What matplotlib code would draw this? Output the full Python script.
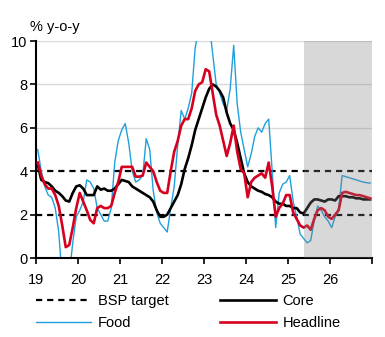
import numpy as np
import matplotlib.pyplot as plt

plt.rcParams['font.family'] = ['Liberation Sans', 'DejaVu Sans']

# monthly y-o-y inflation, Jan 2019 - Dec 2026 (forecast from May 2025)
headline = [
    4.4, 3.8, 3.4, 3.2, 3.2, 2.9, 2.4, 1.5, 0.5, 0.6, 1.4, 2.3,    # 2019
    3.0, 2.6, 2.2, 1.75, 1.6, 2.3, 2.4, 2.3, 2.3, 2.4, 3.0, 3.5,   # 2020
    4.2, 4.2, 4.2, 4.2, 3.75, 3.75, 3.8, 4.4, 4.2, 4.0, 3.5, 3.1,  # 2021
    3.0, 3.0, 4.0, 4.9, 5.4, 6.1, 6.4, 6.4, 6.9, 7.7, 8.0, 8.1,    # 2022
    8.7, 8.6, 7.6, 6.6, 6.1, 5.4, 4.7, 5.3, 6.1, 4.9, 4.1, 3.9,    # 2023
    2.8, 3.5, 3.7, 3.8, 3.9, 3.7, 4.4, 3.3, 1.9, 2.3, 2.5, 2.9,    # 2024
    2.9, 2.1, 1.8, 1.5, 1.4, 1.5, 1.3, 1.8, 2.2, 2.3, 2.2, 1.9,    # 2025
    1.8, 2.0, 2.2, 3.0, 3.05, 3.0, 2.95, 2.9, 2.9, 2.85, 2.8, 2.75,  # 2026
]
core = [
    4.3, 3.6, 3.5, 3.45, 3.3, 3.1, 3.0, 2.85, 2.65, 2.6, 3.0, 3.3,
    3.35, 3.2, 2.9, 2.9, 2.9, 3.3, 3.15, 3.2, 3.1, 3.1, 3.2, 3.4,
    3.6, 3.55, 3.5, 3.3, 3.2, 3.1, 3.0, 2.9, 2.8, 2.6, 2.2, 1.9,
    1.9, 2.0, 2.3, 2.6, 2.9, 3.4, 4.1, 4.6, 5.2, 5.9, 6.4, 6.9,
    7.4, 7.8, 8.0, 7.9, 7.7, 7.4, 6.7, 6.2, 5.9, 5.3, 4.6, 3.9,
    3.5, 3.3, 3.2, 3.1, 3.05, 2.95, 2.9, 2.8, 2.6, 2.5, 2.5, 2.4,
    2.4, 2.3, 2.3, 2.1, 2.05, 2.3, 2.55, 2.7, 2.7, 2.65, 2.6, 2.7,
    2.7, 2.65, 2.85, 2.85, 2.85, 2.8, 2.8, 2.75, 2.75, 2.7, 2.7, 2.7,
]
food = [
    5.0, 4.0, 3.3, 2.9, 2.8, 2.3, 1.2, -1.0, -1.5, -0.8, 0.7, 1.9,
    2.2, 2.6, 3.6, 3.5, 3.2, 2.3, 2.0, 1.7, 1.7, 2.3, 4.4, 5.4,
    5.9, 6.2, 5.3, 4.0, 3.5, 3.6, 3.8, 5.5, 5.0, 3.1, 2.1, 1.6,
    1.4, 1.2, 2.3, 3.3, 5.2, 6.8, 6.4, 6.9, 7.6, 9.7, 10.5, 10.6,
    11.2, 10.8, 9.4, 8.0, 7.6, 7.1, 6.8, 7.8, 9.8, 7.1, 5.8, 5.0,
    4.2, 4.8, 5.6, 6.0, 5.8, 6.2, 6.4, 4.0, 1.4, 3.0, 3.4, 3.5,
    3.8, 2.6, 1.9, 1.1, 0.9, 0.7, 0.8, 1.7, 2.4, 2.2, 1.9, 1.7,
    1.4, 1.9, 2.3, 3.8, 3.75, 3.7, 3.65, 3.6, 3.55, 3.5, 3.47, 3.45,
]
target_band = [2, 4]
forecast_start = 2025 + 4.5 / 12
years = list(range(2019, 2028))
year_labels = ['19', '20', '21', '22', '23', '24', '25', '26', '']

t = 2019 + (np.arange(len(headline)) + 0.5) / 12

fig = plt.figure(figsize=(3.85, 3.37), dpi=100)
ax = fig.add_axes([0.0935, 0.2344, 0.8725, 0.6439])

for y in [6, 8, 10]:
    ax.axhline(y, color='#d9d9d9', lw=1, zorder=0)

dash_kw = dict(color='black', lw=1.6, dashes=(2.8, 2.2))
ax.plot([], [], label='BSP target', **dash_kw)
for y in target_band:
    ax.axhline(y, zorder=1, **dash_kw)

ax.plot(t, food, color='#1fa0dc', lw=1.0, label='Food', zorder=2)
ax.plot(t, core, color='black', lw=1.9, label='Core', zorder=3)
ax.plot(t, headline, color='#d7001e', lw=1.9, label='Headline', zorder=4)

# forecast period shading drawn over the lines
ax.axvspan(forecast_start, 2027, color='#808080', alpha=0.3, lw=0, zorder=5)

ax.set_xlim(2019, 2027)
ax.set_ylim(0, 10)
ax.set_xticks(years)
ax.set_xticklabels(year_labels)
ax.set_yticks([0, 2, 4, 6, 8, 10])
ax.tick_params(axis='both', labelsize=10.5, length=4, width=1.2, color='black')
ax.tick_params(axis='x', pad=7)
ax.tick_params(axis='y', pad=2)

for side in ['top', 'right']:
    ax.spines[side].set_visible(False)
for side in ['left', 'bottom']:
    ax.spines[side].set_linewidth(1.5)

fig.text(0.078, 0.92, '% y-o-y', fontsize=10.5, va='center', ha='left')

handles, labels = ax.get_legend_handles_labels()
order = [labels.index(n) for n in ['BSP target', 'Food', 'Core', 'Headline']]
ax.legend([handles[i] for i in order], [labels[i] for i in order],
          ncol=2, loc='upper left', bbox_to_anchor=(-0.018, -0.14),
          frameon=False, fontsize=10.5, handlelength=3.8, handletextpad=0.45,
          columnspacing=3.55, labelspacing=0.55, borderaxespad=0)

fig.savefig('out.png', dpi=100)
